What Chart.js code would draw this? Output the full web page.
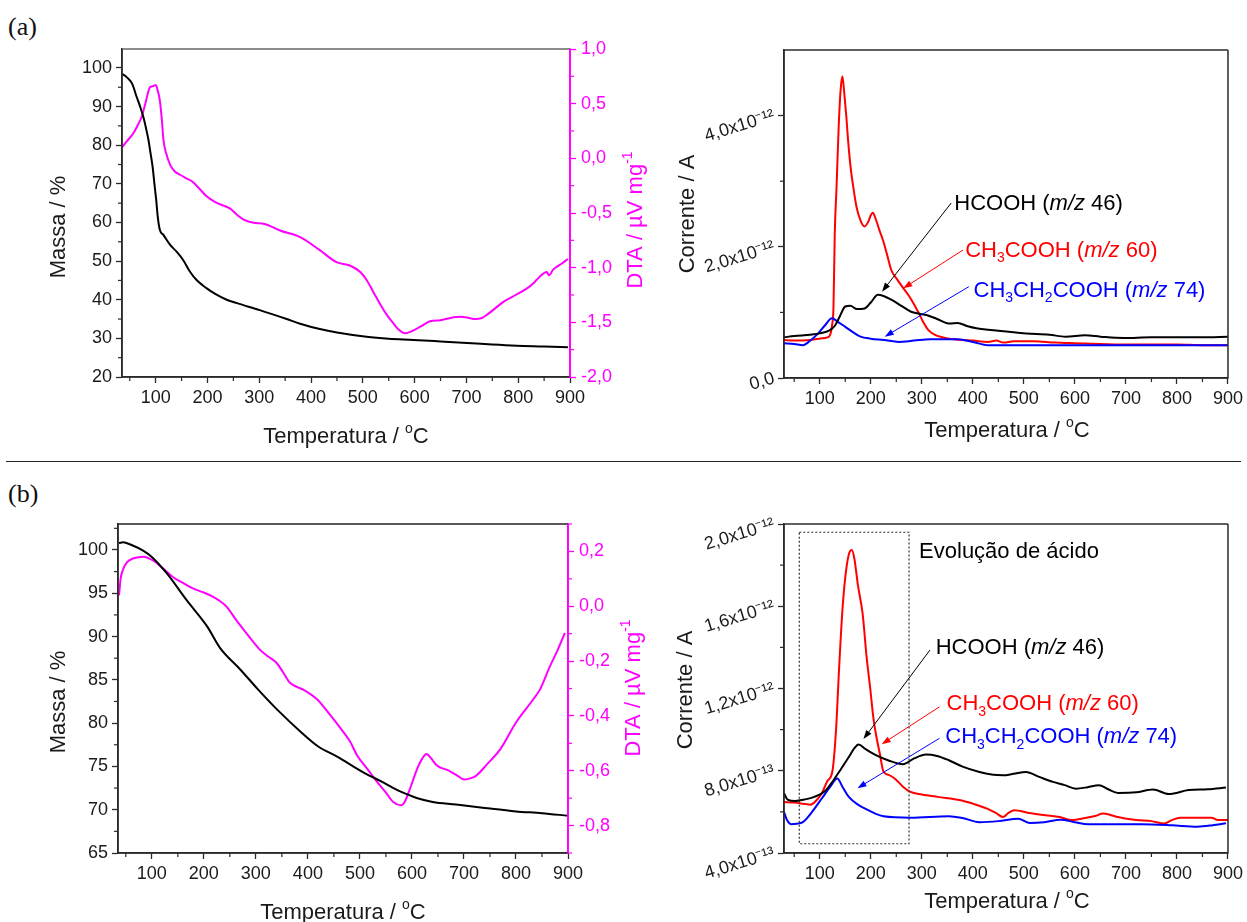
<!DOCTYPE html>
<html><head><meta charset="utf-8">
<script src="https://cdn.jsdelivr.net/npm/chart.js@4.4.1/dist/chart.umd.min.js"></script>
<style>
html,body{margin:0;padding:0;background:#fff;width:1247px;height:922px;overflow:hidden;position:relative;}
canvas{position:absolute;}
.lbl{position:absolute;font-family:"Liberation Serif","Times New Roman",serif;font-size:26px;color:#111;line-height:1;}
#sep{position:absolute;left:6px;top:461px;width:1235px;height:0;border-top:1.3px solid #222;}
</style></head><body>
<div class="lbl" style="left:8px;top:14px">(a)</div>
<div class="lbl" style="left:8px;top:481px">(b)</div>
<div id="sep"></div>
<canvas id="cA1" width="665" height="430" style="left:0px;top:30px;width:665px;height:430px"></canvas>
<canvas id="cA2" width="597" height="430" style="left:650px;top:30px;width:597px;height:430px"></canvas>
<canvas id="cB1" width="665" height="432" style="left:0px;top:490px;width:665px;height:432px"></canvas>
<canvas id="cB2" width="597" height="432" style="left:650px;top:490px;width:597px;height:432px"></canvas>
<script>
// ================= DATA =================
// Temperature ticks
const X_TICKS = [100, 200, 300, 400, 500, 600, 700, 800, 900];
const X_MINOR = [50, 150, 250, 350, 450, 550, 650, 750, 850];

// ---- (a) TG (Massa / %) ----
const A_MASS_T = [35,45,55,63,70,76,82,86,90,94,98,101,104,108,115,128,140,153,166,179,198,215,237,260,301,353,379,417,450,507,550,597,650,701,750,797,850,896];
const A_MASS_V = [98.5,97.5,95.8,92.6,90.0,87.4,84.0,81.4,78.0,74.5,69.5,65.9,61.5,58.1,56.8,54.2,52.5,50.3,47.3,45.1,43.0,41.5,40.0,39.0,37.3,35.0,33.8,32.4,31.5,30.4,29.9,29.6,29.2,28.8,28.4,28.1,27.9,27.7];
// ---- (a) DTA (µV mg-1) ----
const A_DTA_T = [35,45,57,65,73,80,89,95,100,104,108,112,115,120,128,137,147,158,170,185,199,215,230,244,258,270,289,310,340,379,417,449,475,495,507,520,533,546,559,570,582,595,611,630,650,669,688,705,717,730,740,756,772,795,817,830,842,855,860,867,875,885,896];
const A_DTA_V = [0.10,0.16,0.23,0.30,0.38,0.50,0.65,0.66,0.67,0.62,0.53,0.35,0.17,0.05,-0.06,-0.12,-0.15,-0.18,-0.21,-0.28,-0.35,-0.40,-0.43,-0.46,-0.52,-0.56,-0.59,-0.60,-0.66,-0.72,-0.84,-0.95,-0.98,-1.04,-1.11,-1.22,-1.33,-1.43,-1.51,-1.57,-1.60,-1.58,-1.54,-1.49,-1.48,-1.46,-1.45,-1.46,-1.47,-1.46,-1.43,-1.37,-1.31,-1.25,-1.19,-1.14,-1.08,-1.04,-1.07,-1.02,-0.99,-0.96,-0.92];
const A_Y_TICKS = [20,30,40,50,60,70,80,90,100];
const A_Y_MINOR = [25,35,45,55,65,75,85,95];
const A_DTA_TICKS = [-2.0,-1.5,-1.0,-0.5,0.0,0.5,1.0];
const A_DTA_MINOR = [-1.75,-1.25,-0.75,-0.25,0.25,0.75];

// ---- (a) MS ion currents (units of 1e-12 A) ----
const A_HCOOH_T = [30,50,81,100,120,130,140,150,160,173,188,200,214,225,241,260,279,295,309,330,355,370,390,407,450,505,550,582,620,650,695,750,800,850,900];
const A_HCOOH_V = [0.62,0.64,0.66,0.68,0.73,0.80,0.95,1.09,1.10,1.05,1.06,1.15,1.27,1.25,1.19,1.10,1.01,0.98,0.96,0.90,0.83,0.84,0.79,0.76,0.72,0.68,0.66,0.63,0.65,0.63,0.61,0.62,0.62,0.62,0.63];
const A_CH3COOH_T = [30,50,81,100,115,120,124,127,129.5,133,137,141,144.5,148,152,155.5,160,165,172,180,188,195,200,204,210,217,224,232,240,252,263.7,275,285,294,303,313,325,340,354,380,400,430,446,460,480,520,560,600,650,700,750,800,850,899];
const A_CH3COOH_V = [0.58,0.57,0.58,0.60,0.62,0.65,0.80,1.09,2.21,2.92,3.80,4.40,4.60,4.35,4.00,3.63,3.25,2.95,2.61,2.40,2.31,2.38,2.48,2.52,2.42,2.25,2.10,1.88,1.65,1.50,1.37,1.25,1.12,0.99,0.85,0.73,0.66,0.62,0.60,0.58,0.57,0.55,0.57,0.54,0.56,0.56,0.54,0.53,0.52,0.51,0.51,0.51,0.50,0.50];
const A_C2H5COOH_T = [30,50,67,80,97,110,124,135,150,165,180,200,226,255,285,317,370,400,430,500,600,700,800,900];
const A_C2H5COOH_V = [0.53,0.52,0.50,0.56,0.68,0.80,0.91,0.86,0.78,0.70,0.63,0.60,0.58,0.55,0.57,0.59,0.59,0.55,0.50,0.50,0.50,0.50,0.50,0.50];
const A_MS_TICKS = [0, 2, 4];
const A_MS_LABELS = ['0,0', '2,0x10⁻¹²', '4,0x10⁻¹²'];
const A_MS_MINOR = [1, 3];

// ---- (b) TG ----
const B_MASS_T = [37,45,60,84,100,129,167,206,231,270,304,342,388,420,457,490,510,540,571,590,609,640,685,740,800,850,900];
const B_MASS_V = [100.8,100.9,100.6,99.9,99.2,97.3,94.2,91.2,88.7,86.2,83.9,81.5,78.9,77.3,76.1,74.9,74.2,73.3,72.3,71.8,71.35,70.9,70.6,70.2,69.8,69.6,69.3];
// ---- (b) DTA ----
const B_DTA_T = [37,40,44,52,65,84,103,120,141,160,180,200,218,230,244,262,282,295,308,325,340,352,366,380,391,418,440,464,480,495,515,533,550,564,579,587,594,602,610,620,628,637,648,670,685,701,715,724,745,770,800,833,846,865,880,894];
const B_DTA_V = [0.04,0.10,0.13,0.16,0.175,0.181,0.166,0.14,0.106,0.085,0.064,0.05,0.034,0.02,-0.002,-0.05,-0.099,-0.13,-0.159,-0.185,-0.207,-0.24,-0.28,-0.295,-0.304,-0.34,-0.39,-0.448,-0.49,-0.545,-0.595,-0.641,-0.68,-0.714,-0.726,-0.71,-0.677,-0.635,-0.593,-0.555,-0.539,-0.555,-0.581,-0.599,-0.615,-0.632,-0.626,-0.617,-0.575,-0.521,-0.424,-0.34,-0.304,-0.22,-0.16,-0.097];
const B_Y_TICKS = [65,70,75,80,85,90,95,100];
const B_Y_MINOR = [67.5,72.5,77.5,82.5,87.5,92.5,97.5,102.5];
const B_DTA_TICKS = [-0.8,-0.6,-0.4,-0.2,0.0,0.2];
const B_DTA_MINOR = [-0.9,-0.7,-0.5,-0.3,-0.1,0.1,0.3];

// ---- (b) MS ion currents (units of 1e-13 A) ----
const B_HCOOH_T = [30,37,52,70,89.5,110,127,142,157,168,176,190,210,235,263,285,308,330,353,380,413,440,459,480,504,530,557,580,602,625,647,665,685,720,753,784,823,860,896];
const B_HCOOH_V = [6.9,6.6,6.53,6.6,6.73,7.0,7.54,8.1,8.67,9.1,9.28,9.05,8.76,8.5,8.32,8.6,8.79,8.72,8.51,8.2,7.94,7.8,7.78,7.85,7.94,7.7,7.46,7.3,7.13,7.2,7.3,7.1,6.92,6.95,7.09,6.87,7.06,7.1,7.18];
const B_CH3COOH_T = [30,50,67,82,95,104,115,125,132,138,145,152,158,163,168,175,184,192,199,205,210,218,225,235,248,262,278,300,331,376,400,428,445,459,470,481,510,542,570,594,620,640,655,670,684,720,750,775,790,806,840,868,880,900];
const B_CH3COOH_V = [6.48,6.45,6.4,6.35,6.6,6.9,7.5,8.0,10.0,13.0,16.0,17.8,18.6,18.74,18.3,17.0,15.65,13.5,12.0,10.6,9.8,8.8,7.95,7.8,7.6,7.25,6.97,6.85,6.73,6.57,6.4,6.16,5.95,5.75,5.95,6.08,5.95,5.84,5.75,5.6,5.7,5.8,5.92,5.85,5.75,5.6,5.55,5.43,5.6,5.72,5.72,5.72,5.6,5.6];
const B_C2H5COOH_T = [30,36,44,55,67,85,104,120,134.5,145,157,175,195,210,225,278,353,380,413,450,489,512,540,572,600,626,680,731,790,840,870,896];
const B_C2H5COOH_V = [6.0,5.6,5.4,5.42,5.5,6.0,6.65,7.2,7.62,7.2,6.73,6.35,6.08,5.9,5.79,5.72,5.79,5.7,5.5,5.55,5.67,5.46,5.5,5.62,5.5,5.4,5.4,5.4,5.35,5.28,5.35,5.45];
const B_MS_TICKS = [4, 8, 12, 16, 20];
const B_MS_LABELS = ['4,0x10⁻¹³', '8,0x10⁻¹³', '1,2x10⁻¹²', '1,6x10⁻¹²', '2,0x10⁻¹²'];
const B_MS_MINOR = [6, 10, 14, 18];

// ================= STYLE / HELPERS =================
const FAM = '"Liberation Sans", Arial, Helvetica, sans-serif';
const MAG = '#ff00ff', RED = '#ff0000', BLUE = '#0000ff', BLK = '#000000', AX = '#2a2a2a';
const TICK_FONT = 18, TITLE_FONT = 22;

function pts(xs, ys) { return xs.map((x, i) => ({ x: x, y: ys[i] })); }
function comma(v) { const s = (Math.abs(v) < 1e-9 ? 0 : v).toFixed(1); return s.replace('.', ','); }

function drawRuns(ctx, runs, x, y, size, color, align, rot) {
  ctx.save();
  ctx.translate(x, y);
  if (rot) ctx.rotate(rot);
  const fonts = runs.map(r => ((r.it ? 'italic ' : '') + ((r.sub || r.sup) ? Math.round(size * 0.64) : size) + 'px ' + FAM));
  let total = 0;
  const ws = runs.map((r, i) => { ctx.font = fonts[i]; const w = ctx.measureText(r.t).width; total += w; return w; });
  let cx = align === 'center' ? -total / 2 : (align === 'right' ? -total : 0);
  ctx.fillStyle = color;
  ctx.textBaseline = 'alphabetic';
  ctx.textAlign = 'left';
  runs.forEach((r, i) => {
    ctx.font = fonts[i];
    const dy = r.sub ? size * 0.25 : (r.sup ? -size * 0.45 : 0);
    ctx.fillText(r.t, cx, dy);
    cx += ws[i];
  });
  ctx.restore();
}

const framePlugin = {
  id: 'frame',
  afterDatasetsDraw(chart, args, o) {
    const a = chart.chartArea, ctx = chart.ctx;
    ctx.save();
    ctx.lineWidth = 1.5;
    ctx.strokeStyle = o.top || AX;
    ctx.beginPath(); ctx.moveTo(a.left, a.top); ctx.lineTo(a.right, a.top); ctx.stroke();
    ctx.strokeStyle = o.right || AX;
    ctx.beginPath(); ctx.moveTo(a.right, a.top); ctx.lineTo(a.right, a.bottom + 0.75); ctx.stroke();
    ctx.strokeStyle = AX;
    ctx.beginPath(); ctx.moveTo(a.left, a.top); ctx.lineTo(a.left, a.bottom); ctx.lineTo(a.right, a.bottom); ctx.stroke();
    if (o.right && o.right !== AX) {
      ctx.strokeStyle = o.right;
      ctx.beginPath(); ctx.moveTo(a.right, a.top); ctx.lineTo(a.right, a.bottom + 0.75); ctx.stroke();
    }
    ctx.restore();
  }
};

const minorPlugin = {
  id: 'minor',
  afterDraw(chart, args, o) {
    const ctx = chart.ctx, a = chart.chartArea;
    ctx.save();
    ctx.lineWidth = 1.2;
    (o.list || []).forEach(m => {
      const s = chart.scales[m.axis];
      ctx.strokeStyle = m.color || AX;
      m.values.forEach(v => {
        const p = s.getPixelForValue(v);
        ctx.beginPath();
        if (m.axis === 'x') { ctx.moveTo(p, a.bottom); ctx.lineTo(p, a.bottom + 4); }
        else if (s.position === 'left') { ctx.moveTo(a.left, p); ctx.lineTo(a.left - 4, p); }
        else { ctx.moveTo(a.right, p); ctx.lineTo(a.right + 4, p); }
        ctx.stroke();
      });
    });
    ctx.restore();
  }
};

const notesPlugin = {
  id: 'notes',
  afterDraw(chart, args, o) {
    const ctx = chart.ctx;
    const X = t => chart.scales.x.getPixelForValue(t);
    const Y = (v, ax) => chart.scales[ax || 'y'].getPixelForValue(v);
    // dotted box
    (o.boxes || []).forEach(b => {
      const x1 = X(b.x0), x2 = X(b.x1), y1 = Y(b.y1), y2 = Y(b.y0);
      ctx.save(); ctx.setLineDash([2, 2]); ctx.strokeStyle = '#333'; ctx.lineWidth = 1.2;
      ctx.strokeRect(x1, y1, x2 - x1, y2 - y1); ctx.restore();
    });
    // arrows
    (o.arrows || []).forEach(r => {
      const x1 = X(r.from[0]), y1 = Y(r.from[1]), x2 = X(r.to[0]), y2 = Y(r.to[1]);
      const ang = Math.atan2(y2 - y1, x2 - x1), L = 9, W = 3.2;
      ctx.save(); ctx.strokeStyle = r.color; ctx.fillStyle = r.color; ctx.lineWidth = 1;
      ctx.beginPath(); ctx.moveTo(x1, y1); ctx.lineTo(x2 - L * 0.8 * Math.cos(ang), y2 - L * 0.8 * Math.sin(ang)); ctx.stroke();
      ctx.beginPath(); ctx.moveTo(x2, y2);
      ctx.lineTo(x2 - L * Math.cos(ang) + W * Math.sin(ang), y2 - L * Math.sin(ang) - W * Math.cos(ang));
      ctx.lineTo(x2 - L * Math.cos(ang) - W * Math.sin(ang), y2 - L * Math.sin(ang) + W * Math.cos(ang));
      ctx.closePath(); ctx.fill(); ctx.restore();
    });
    // data-anchored labels
    (o.labels || []).forEach(l => drawRuns(ctx, l.runs, X(l.at[0]), Y(l.at[1]), l.size || TITLE_FONT, l.color, 'left', 0));
    // axis titles (canvas pixel positions)
    (o.titles || []).forEach(t => {
      const size = t.size || TITLE_FONT;
      if (t.vertical) drawRuns(ctx, t.runs, t.x + size * 0.36, t.y, size, t.color, 'center', -Math.PI / 2);
      else drawRuns(ctx, t.runs, t.x, t.y, size, t.color, 'center', 0);
    });
  }
};

function fixedTicks(arr) { return s => { s.ticks = arr.map(v => ({ value: v })); }; }

function xScale(min, h) {
  return {
    type: 'linear', position: 'bottom', min: min, max: 900,
    afterBuildTicks: fixedTicks(X_TICKS),
    afterFit: s => { s.height = h; },
    ticks: { autoSkip: false, maxRotation: 0, minRotation: 0, padding: 4, color: '#1a1a1a', font: { family: FAM, size: TICK_FONT }, callback: v => String(v) },
    grid: { display: true, drawOnChartArea: false, drawTicks: true, tickLength: 6, tickColor: AX, tickWidth: 1.3 },
    border: { display: true, color: AX, width: 1.5 }
  };
}
function yScale(pos, min, max, w, ticks, labelFn, color, rot, pad) {
  return {
    type: 'linear', position: pos, min: min, max: max,
    afterBuildTicks: fixedTicks(ticks),
    afterFit: s => { s.width = w; },
    ticks: { autoSkip: false, minRotation: rot || 0, maxRotation: rot || 0, padding: pad, color: color, font: { family: FAM, size: TICK_FONT }, callback: labelFn },
    grid: { display: true, drawOnChartArea: false, drawTicks: true, tickLength: 6, tickColor: color === MAG ? MAG : AX, tickWidth: 1.3 },
    border: { display: true, color: color === MAG ? MAG : AX, width: 1.5 }
  };
}
function ds(xs, ys, color, axis) {
  return { data: pts(xs, ys), borderColor: color, backgroundColor: color, yAxisID: axis || 'y', borderWidth: 2, pointRadius: 0, cubicInterpolationMode: 'monotone', fill: false };
}
function make(id, datasets, scales, padding, plugins) {
  return new Chart(document.getElementById(id), {
    type: 'line',
    data: { datasets: datasets },
    options: {
      responsive: false, animation: false, devicePixelRatio: 1, parsing: true,
      layout: { padding: padding },
      scales: scales,
      plugins: Object.assign({ legend: { display: false }, tooltip: { enabled: false } }, plugins)
    },
    plugins: [framePlugin, minorPlugin, notesPlugin]
  });
}

const T_TITLE = [{ t: 'Temperatura / ' }, { t: 'o', sup: true }, { t: 'C' }];
const DTA_TITLE = [{ t: 'DTA / µV mg' }, { t: '-1', sup: true }];

// ================= (a) left: TG / DTA =================
make('cA1',
  [ds(A_MASS_T, A_MASS_V, BLK, 'y'), ds(A_DTA_T, A_DTA_V, MAG, 'y1')],
  {
    x: xScale(35, 83),
    y: yScale('left', 20, 104.9, 122, A_Y_TICKS, v => String(v), '#1a1a1a', 0, 4),
    y1: yScale('right', -2, 1, 95, A_DTA_TICKS, v => comma(v), MAG, 0, 5)
  },
  { top: 19, left: 0, right: 0, bottom: 0 },
  {
    frame: { top: '#666', right: MAG },
    minor: { list: [{ axis: 'x', values: X_MINOR }, { axis: 'y', values: A_Y_MINOR }, { axis: 'y1', values: A_DTA_MINOR, color: MAG }] },
    notes: { titles: [
      { runs: T_TITLE, x: 346, y: 413, color: '#1a1a1a' },
      { runs: [{ t: 'Massa / %' }], x: 57, y: 197, vertical: true, color: '#1a1a1a' },
      { runs: DTA_TITLE, x: 634, y: 190, vertical: true, color: MAG }
    ] }
  });

// ================= (a) right: MS =================
make('cA2',
  [ds(A_HCOOH_T, A_HCOOH_V, BLK), ds(A_C2H5COOH_T, A_C2H5COOH_V, BLUE), ds(A_CH3COOH_T, A_CH3COOH_V, RED)],
  {
    x: xScale(30, 82),
    y: yScale('left', 0, 5, 134, A_MS_TICKS, (v, i) => A_MS_LABELS[i], '#1a1a1a', 17, 4)
  },
  { top: 20, left: 0, right: 17, bottom: 0 },
  {
    frame: {},
    minor: { list: [{ axis: 'x', values: X_MINOR }, { axis: 'y', values: A_MS_MINOR }] },
    notes: {
      arrows: [
        { from: [357.7, 2.668], to: [222, 1.316], color: '#000' },
        { from: [380.9, 1.951], to: [263.7, 1.367], color: RED },
        { from: [392.2, 1.392], to: [227.4, 0.630], color: BLUE }
      ],
      labels: [
        { at: [363.6, 2.561], color: '#000', runs: [{ t: 'HCOOH (' }, { t: 'm/z', it: true }, { t: ' 46)' }] },
        { at: [385, 1.845], color: RED, runs: [{ t: 'CH' }, { t: '3', sub: true }, { t: 'COOH (' }, { t: 'm/z', it: true }, { t: ' 60)' }] },
        { at: [401.4, 1.235], color: BLUE, runs: [{ t: 'CH' }, { t: '3', sub: true }, { t: 'CH' }, { t: '2', sub: true }, { t: 'COOH (' }, { t: 'm/z', it: true }, { t: ' 74)' }] }
      ],
      titles: [
        { runs: T_TITLE, x: 357, y: 407, color: '#1a1a1a' },
        { runs: [{ t: 'Corrente / A' }], x: 36, y: 184, vertical: true, color: '#1a1a1a' }
      ]
    }
  });

// ================= (b) left: TG / DTA =================
make('cB1',
  [ds(B_MASS_T, B_MASS_V, BLK, 'y'), ds(B_DTA_T, B_DTA_V, MAG, 'y1')],
  {
    x: xScale(35, 69),
    y: yScale('left', 65, 103, 118, B_Y_TICKS, v => String(v), '#1a1a1a', 0, 4),
    y1: yScale('right', -0.9, 0.3, 97, B_DTA_TICKS, v => comma(v), MAG, 0, 5)
  },
  { top: 34, left: 0, right: 0, bottom: 0 },
  {
    frame: { top: '#222', right: MAG },
    minor: { list: [{ axis: 'x', values: X_MINOR }, { axis: 'y', values: B_Y_MINOR }, { axis: 'y1', values: B_DTA_MINOR, color: MAG }] },
    notes: { titles: [
      { runs: T_TITLE, x: 343, y: 429, color: '#1a1a1a' },
      { runs: [{ t: 'Massa / %' }], x: 57, y: 212, vertical: true, color: '#1a1a1a' },
      { runs: DTA_TITLE, x: 632, y: 198, vertical: true, color: MAG }
    ] }
  });

// ================= (b) right: MS =================
make('cB2',
  [ds(B_HCOOH_T, B_HCOOH_V, BLK), ds(B_C2H5COOH_T, B_C2H5COOH_V, BLUE), ds(B_CH3COOH_T, B_CH3COOH_V, RED)],
  {
    x: xScale(30, 69),
    y: yScale('left', 4, 20, 134, B_MS_TICKS, (v, i) => B_MS_LABELS[i], '#1a1a1a', 17, 4)
  },
  { top: 34, left: 0, right: 16, bottom: 0 },
  {
    frame: {},
    minor: { list: [{ axis: 'x', values: X_MINOR }, { axis: 'y', values: B_MS_MINOR }] },
    notes: {
      boxes: [{ x0: 60, x1: 275, y0: 4.45, y1: 19.6 }],
      arrows: [
        { from: [316, 13.87], to: [185.7, 9.54], color: '#000' },
        { from: [334.8, 11.11], to: [221.5, 9.29], color: RED },
        { from: [334.8, 9.58], to: [174, 7.15], color: BLUE }
      ],
      labels: [
        { at: [294.7, 18.35], color: '#000', runs: [{ t: 'Evolução de ácido' }] },
        { at: [327.2, 13.67], color: '#000', runs: [{ t: 'HCOOH (' }, { t: 'm/z', it: true }, { t: ' 46)' }] },
        { at: [348.4, 10.95], color: RED, runs: [{ t: 'CH' }, { t: '3', sub: true }, { t: 'COOH (' }, { t: 'm/z', it: true }, { t: ' 60)' }] },
        { at: [346, 9.33], color: BLUE, runs: [{ t: 'CH' }, { t: '3', sub: true }, { t: 'CH' }, { t: '2', sub: true }, { t: 'COOH (' }, { t: 'm/z', it: true }, { t: ' 74)' }] }
      ],
      titles: [
        { runs: T_TITLE, x: 357, y: 418, color: '#1a1a1a' },
        { runs: [{ t: 'Corrente / A' }], x: 34, y: 200, vertical: true, color: '#1a1a1a' }
      ]
    }
  });
</script>
</body></html>
